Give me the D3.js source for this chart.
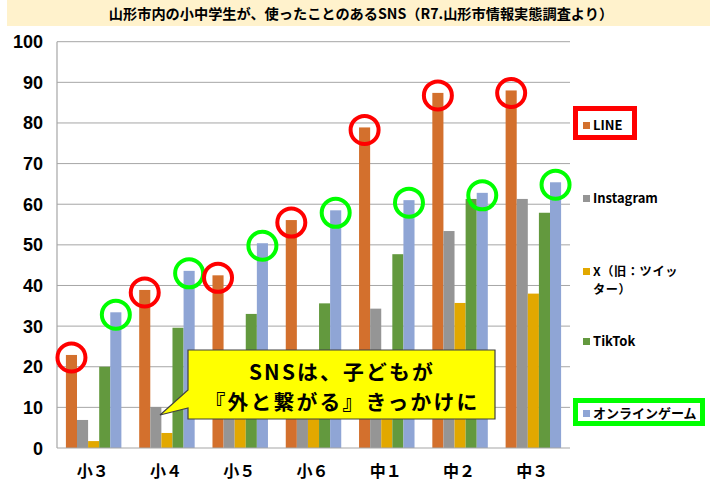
<!DOCTYPE html>
<html><head><meta charset="utf-8">
<script src="https://cdn.jsdelivr.net/npm/d3@7"></script>
<style>
html,body{margin:0;padding:0;background:#fff;}
svg{display:block;}
</style></head>
<body>
<svg id="c" width="710" height="483"></svg>
<script>
const title = "山形市内の小中学生が、使ったことのあるSNS（R7.山形市情報実態調査より）";
const categories = ["小３","小４","小５","小６","中１","中２","中３"];
const seriesNames = ["LINE","Instagram","X（旧：ツイッター）","TikTok","オンラインゲーム"];
const legendLines = [["LINE"],["Instagram"],["X（旧：ツイッ","ター）"],["TikTok"],["オンラインゲーム"]];
const seriesColors = ["#D3702D","#959595","#E2A800","#63993E","#8FA5D5"];
const lineValues      = [22.9, 38.9, 42.5, 56.1, 78.9, 87.4, 88.0];
const instagramValues = [6.9, 10.1, 16, 22, 34.3, 53.4, 61.3];
const xValues         = [1.7, 3.7, 8, 13, 20, 35.7, 38.0];
const tiktokValues    = [20.0, 29.6, 33.0, 35.6, 47.7, 61.3, 57.9];
const gameValues      = [33.4, 43.6, 50.4, 58.5, 61.0, 62.8, 65.4];
const yTicks = [0,10,20,30,40,50,60,70,80,90,100];
const calloutLines = ["SNSは、子どもが","『外と繋がる』きっかけに"];

const allSeries = [lineValues, instagramValues, xValues, tiktokValues, gameValues];

const svg = d3.select("#c");
const pL = 57, pR = 570, pT = 41.7, pB = 448;
const jp = "'Noto Sans CJK JP','Noto Sans',sans-serif";

// title band
svg.append("rect").attr("x",7).attr("y",0).attr("width",703).attr("height",26).attr("fill","#FFF2CC");
svg.append("text").attr("x",361).attr("y",19).attr("text-anchor","middle")
  .attr("font-family",jp).attr("font-weight","bold").attr("font-size",14.2).attr("fill","#000").text(title);

const y = d3.scaleLinear().domain([0,100]).range([pB, pT]);
const x0 = d3.scaleBand().domain(categories).range([pL,pR]).paddingInner(0.243).paddingOuter(0.1215);
const x1 = d3.scaleBand().domain(seriesNames).range([0, x0.bandwidth()]).padding(0);

// gridlines
svg.append("g").selectAll("line").data(yTicks.filter(t=>t>0)).join("line")
  .attr("x1",pL).attr("x2",pR).attr("y1",d=>y(d)).attr("y2",d=>y(d))
  .attr("stroke","#A6A6A6").attr("stroke-width",1);

// y labels
svg.append("g").selectAll("text").data(yTicks).join("text")
  .attr("x",43).attr("y",d=>y(d)+6.5).attr("text-anchor","end")
  .attr("font-family","'Liberation Sans',Arial,sans-serif").attr("font-weight","bold").attr("font-size",18)
  .attr("fill","#000").text(d=>d);

// bars
const data = [];
categories.forEach((c,i)=>seriesNames.forEach((s,j)=>data.push({c,s,j,v:allSeries[j][i]})));
svg.append("g").selectAll("rect").data(data).join("rect")
  .attr("x",d=>x0(d.c)+x1(d.s)).attr("width",x1.bandwidth())
  .attr("y",d=>y(d.v)).attr("height",d=>y(0)-y(d.v))
  .attr("fill",d=>seriesColors[d.j]);

// axes lines
svg.append("line").attr("x1",pL).attr("x2",pL).attr("y1",pT).attr("y2",pB).attr("stroke","#A6A6A6").attr("stroke-width",1.2);
svg.append("line").attr("x1",pL).attr("x2",pR).attr("y1",pB).attr("y2",pB).attr("stroke","#A6A6A6").attr("stroke-width",1.2);

// x labels
svg.append("g").selectAll("text").data(categories).join("text")
  .attr("x",d=>x0(d)+x0.bandwidth()/2-1).attr("y",477).attr("text-anchor","middle")
  .attr("font-family",jp).attr("font-weight","bold").attr("font-size",16).attr("fill","#000").text(d=>d);

// highlight circles
const circ = svg.append("g");
categories.forEach((c,i)=>{
  circ.append("circle").attr("cx",x0(c)+x1("LINE")+x1.bandwidth()/2).attr("cy",y(lineValues[i])+2.5)
    .attr("r",14).attr("fill","none").attr("stroke","#FF0000").attr("stroke-width",4);
  circ.append("circle").attr("cx",x0(c)+x1("オンラインゲーム")+x1.bandwidth()/2).attr("cy",y(gameValues[i])+2.5)
    .attr("r",14).attr("fill","none").attr("stroke","#00FF00").attr("stroke-width",4);
});

// callout
svg.append("path")
  .attr("d","M188,350 L495,350 L495,419 L188,419 L188,408 L160,415 L188,390 Z")
  .attr("fill","#FFFF00").attr("stroke","#404040").attr("stroke-width",1.2);
const ct = svg.append("text").attr("text-anchor","middle")
  .attr("font-family",jp).attr("font-weight","bold").attr("font-size",20.8).attr("letter-spacing",2.2).attr("fill","#000");
ct.selectAll("tspan").data(calloutLines).join("tspan")
  .attr("x",342).attr("y",(d,i)=>379.5+i*30.4).text(d=>d);

// legend
const legY = [126, 199, 272, 342, 414];
const lg = svg.append("g");
legendLines.forEach((lines,i)=>{
  lg.append("rect").attr("x",583).attr("y",legY[i]-4).attr("width",7).attr("height",7).attr("fill",seriesColors[i]);
  const multi = lines.length > 1;
  const t = lg.append("text").attr("font-family",jp).attr("font-weight","bold")
    .attr("font-size",multi ? 12.2 : 13).attr("letter-spacing",multi ? 0.6 : 0).attr("fill","#000");
  t.selectAll("tspan").data(lines).join("tspan")
    .attr("x",593).attr("y",(d,k)=>legY[i]+4.3+k*17.8).text(d=>d);
});
lg.append("rect").attr("x",575.5).attr("y",108.5).attr("width",59).attr("height",29).attr("fill","none").attr("stroke","#FF0000").attr("stroke-width",5);
lg.append("rect").attr("x",575.5).attr("y",400.5).attr("width",127).attr("height",23).attr("fill","none").attr("stroke","#00FF00").attr("stroke-width",5);
</script>
</body></html>
